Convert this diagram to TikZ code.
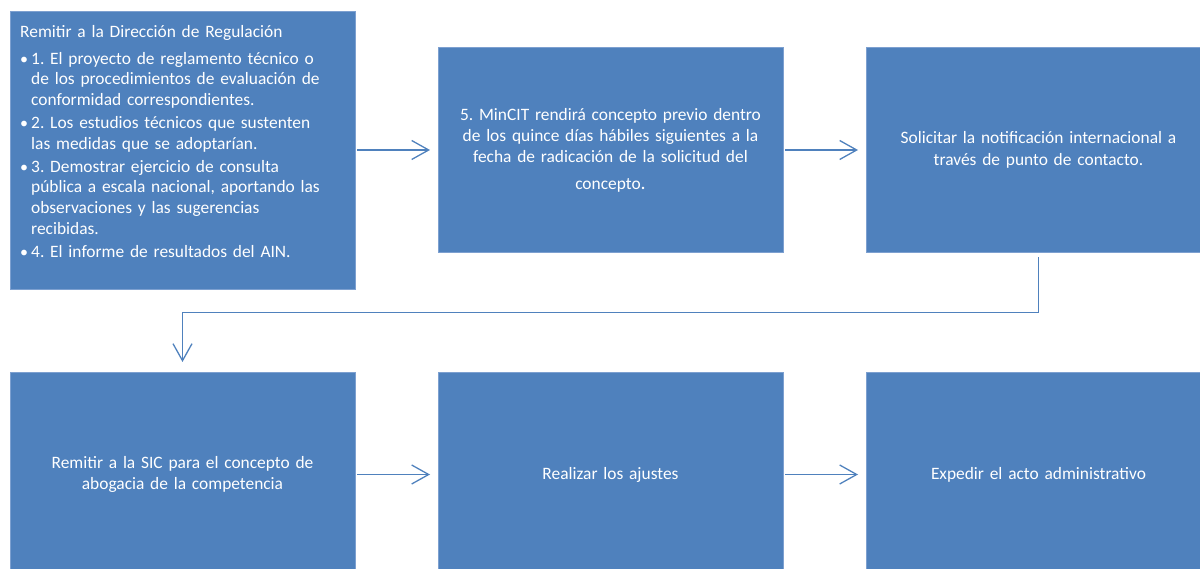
\documentclass[tikz,border=0pt]{standalone}
\usepackage{fontspec}
\setmainfont{Carlito}
\usetikzlibrary{arrows.meta,positioning}
\definecolor{stepblue}{RGB}{79,129,189}
\definecolor{edgeblue}{RGB}{125,160,208}
\newcommand{\paso}[1]{\par\vspace{2.5pt}\hangindent=11pt\hangafter=1\makebox[11pt][l]{\fontsize{16}{16}\selectfont•}#1}
\frenchspacing

\begin{document}
\begin{tikzpicture}[x=1pt,y=-1pt,
  box/.style={draw=edgeblue,line width=0.8pt,fill=stepblue,text=white,
              minimum width=345pt,minimum height=205pt,inner sep=4pt,outer sep=0pt,
              text width=334pt,align=center,font=\fontsize{17.4}{21.3}\selectfont},
  arr/.style={-{Straight Barb[length=17pt,width=19pt,line width=1.3pt]},line width=1.3pt,
              stepblue,shorten <=2pt,shorten >=8pt}]
  \useasboundingbox (0,0) rectangle (1200,569);
  \clip (0,0) rectangle (1200,569);
  % top row
  \node[box,minimum height=278pt] (dir) at (182.5,150) {};
  \node[anchor=north west,inner xsep=10pt,inner ysep=14pt,text width=330pt,align=left,text=white,
        font=\fontsize{17.4}{20.6}\selectfont] (dirtext) at (dir.north west)
    {Remitir a la Dirección de Regulación\par\vspace{4pt}
     \paso{1. El proyecto de reglamento técnico o\newline de los procedimientos de evaluación de\newline conformidad correspondientes.}
     \paso{2. Los estudios técnicos que sustenten\newline las medidas que se adoptarían.}
     \paso{3. Demostrar ejercicio de consulta\newline pública a escala nacional, aportando las\newline observaciones y las sugerencias\newline recibidas.}
     \paso{4. El informe de resultados del AIN.}};
  \node[box,right=83pt of dir] (mincit) {5. MinCIT rendirá concepto previo dentro\\
    de los quince días hábiles siguientes a la\\ fecha de radicación de la solicitud del\\[5pt]
    concepto{\fontsize{20}{21}\selectfont.}};
  \node[box,right=83pt of mincit] (notif) {Solicitar la notificación internacional a\\
    través de punto de contacto.};
  % bottom row
  \node[box,below=83pt of dir] (sic) {Remitir a la SIC para el concepto de\\
    abogacia de la competencia};
  \node[box,right=83pt of sic] (ajustes) {Realizar los ajustes};
  \node[box,right=83pt of ajustes] (acto) {Expedir el acto administrativo};
  % connectors
  \draw[arr] (dir) -- (mincit);
  \draw[arr] (mincit) -- (notif);
  \draw[arr,shorten <=5pt,shorten >=10pt] (notif.south) -- ++(0,60) -| (sic.north);
  \draw[arr] (sic) -- (ajustes);
  \draw[arr] (ajustes) -- (acto);
\end{tikzpicture}
\end{document}
